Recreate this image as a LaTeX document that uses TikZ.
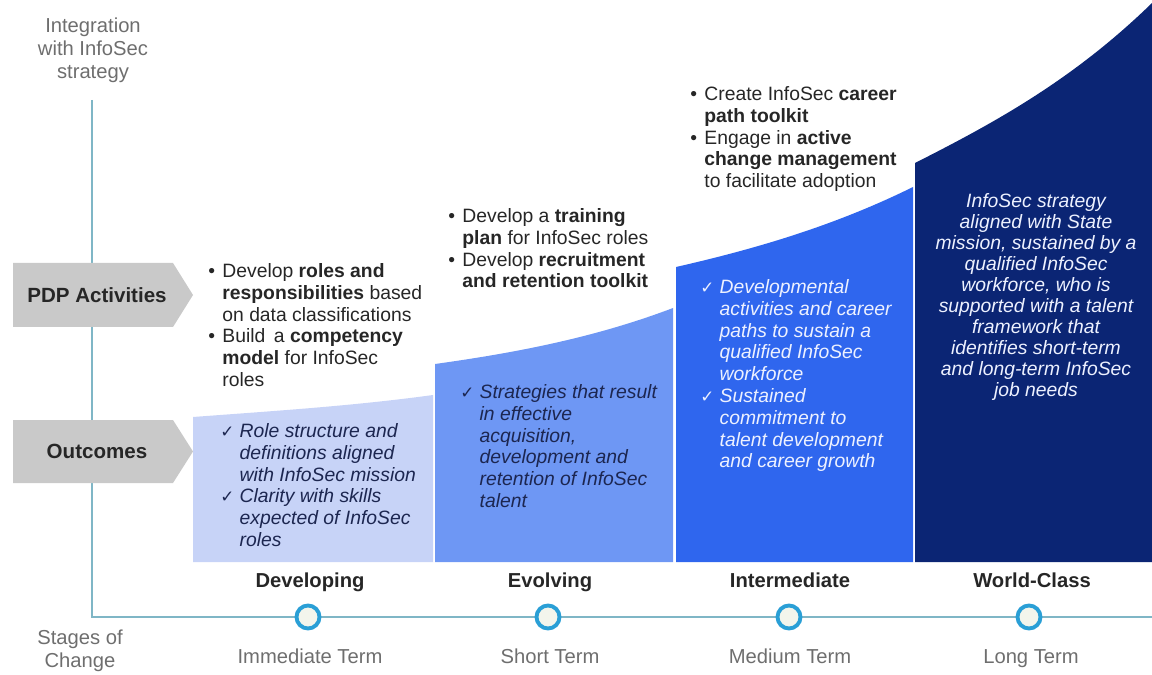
\documentclass[tikz,border=0pt]{standalone}
\usepackage{fontspec}
\setmainfont{Liberation Sans}
\newfontfamily\symfont{DejaVu Sans}
\usepackage{xcolor}
\usetikzlibrary{positioning}

\definecolor{axisteal}{HTML}{7FB6C6}
\definecolor{ringblue}{HTML}{2A9FD6}
\definecolor{ringfill}{HTML}{F3F5EC}
\definecolor{taggray}{HTML}{C9C9C9}
\definecolor{stageA}{HTML}{C7D3F7}
\definecolor{stageB}{HTML}{6E97F4}
\definecolor{stageC}{HTML}{2F66EE}
\definecolor{stageD}{HTML}{0B2574}
\definecolor{bodygray}{HTML}{262626}
\definecolor{notegray}{HTML}{6E6E6E}
\definecolor{inknavy}{HTML}{1C2650}
\definecolor{inkpale}{HTML}{EDF1FF}

\tikzset{
  tag/.style={fill=taggray, draw=none},
  tagtext/.style={font=\fontsize{11.7}{14}\selectfont\bfseries, text=bodygray, inner sep=0pt},
  act/.style={anchor=north west, inner sep=0pt, text=bodygray, font=\fontsize{11}{12.4}\selectfont},
  res/.style={anchor=north west, inner sep=0pt, font=\fontsize{11}{12.4}\selectfont\itshape},
  stage/.style={font=\fontsize{11.5}{13}\selectfont\bfseries, text=bodygray, text height=8.3pt, text depth=2.4pt, inner sep=0pt},
  term/.style={font=\fontsize{11.5}{13}\selectfont, text=notegray, text height=8.3pt, text depth=2.4pt, inner sep=0pt},
  note/.style={font=\fontsize{11.5}{13}\selectfont, text=notegray, align=center, inner sep=0pt},
  ring/.style={circle, draw=ringblue, fill=ringfill, line width=2.2pt, minimum size=0.46cm, inner sep=0pt},
  axis/.style={draw=axisteal, line width=1.1pt}
}
\newcommand{\bul}{\textbullet}
\newcommand{\chk}{{\symfont\fontsize{9.5}{10}\selectfont ✓}}

\begin{document}
\begin{tikzpicture}[x=0.02cm, y=-0.02cm]
  \useasboundingbox (0,0) rectangle (1152,675);

  % maturity columns, each top a little steeper than the last
  \fill[stageA] (193,562) -- (193,417) .. controls (273,411) and (353,406) .. (433,395) -- (433,562) -- cycle;
  \fill[stageB] (435,562) -- (435,364) .. controls (514,353) and (594,338) .. (673,308) -- (673,562) -- cycle;
  \fill[stageC] (676,562) -- (676,267) .. controls (755,249) and (834,226) .. (913,187) -- (913,562) -- cycle;
  \fill[stageD] (915,562) -- (915,163) .. controls (994,123) and (1073,80) .. (1152,3) -- (1152,562) -- cycle;

  % axes
  \draw[axis] (92,100) -- (92,617) -- (1152,617);
  \node[note] (yax) at (93,50) {Integration\\with InfoSec\\strategy};
  \node[note] (xax) at (80,651) {Stages of\\Change};

  % row tags
  \fill[tag] (13,263) -- (173,263) -- (193,295) -- (173,327) -- (13,327) -- cycle;
  \node[tagtext] (pdp) at (97,295) {PDP Activities};
  \fill[tag] (13,420) -- (173,420) -- (193,451.5) -- (173,483) -- (13,483) -- cycle;
  \node[tagtext] (out) at (97,451.5) {Outcomes};

  % stage markers
  \node[ring] (r1) at (308,617) {};
  \node[ring] (r2) at (548,617) {};
  \node[ring] (r3) at (789,617) {};
  \node[ring] (r4) at (1029,617) {};
  \node[stage] (s1) at (310,582) {Developing};
  \node[stage] (s2) at (550,582) {Evolving};
  \node[stage] (s3) at (790,582) {Intermediate};
  \node[stage] (s4) at (1032,582) {World-Class};
  \node[term] (t1) at (310,658) {Immediate Term};
  \node[term] (t2) at (550,658) {Short Term};
  \node[term] (t3) at (790,658) {Medium Term};
  \node[term] (t4) at (1031,658) {Long Term};

  % activities
  \node[act] (a1) at (208,262) {\begin{tabular}{@{}p{8pt}@{}l@{}}
    \bul & Develop \textbf{roles and}\\
         & \textbf{responsibilities} based\\
         & on data classifications\\
    \bul & Build\, a \textbf{competency}\\
         & \textbf{model} for InfoSec\\
         & roles
  \end{tabular}};
  \node[act] (a2) at (448,207) {\begin{tabular}{@{}p{8pt}@{}l@{}}
    \bul & Develop a \textbf{training}\\
         & \textbf{plan} for InfoSec roles\\
    \bul & Develop \textbf{recruitment}\\
         & \textbf{and retention toolkit}
  \end{tabular}};
  \node[act] (a3) at (690,85) {\begin{tabular}{@{}p{8pt}@{}l@{}}
    \bul & Create InfoSec \textbf{career}\\
         & \textbf{path toolkit}\\
    \bul & Engage in \textbf{active}\\
         & \textbf{change management}\\
         & to facilitate adoption
  \end{tabular}};

  % outcomes
  \node[res, text=inknavy] (o1) at (220,422) {\begin{tabular}{@{}p{11pt}@{}l@{}}
    \chk & Role structure and\\
         & definitions aligned\\
         & with InfoSec mission\\
    \chk & Clarity with skills\\
         & expected of InfoSec\\
         & roles
  \end{tabular}};
  \node[res, text=inknavy] (o2) at (460,383) {\begin{tabular}{@{}p{11pt}@{}l@{}}
    \chk & Strategies that result\\
         & in effective\\
         & acquisition,\\
         & development and\\
         & retention of InfoSec\\
         & talent
  \end{tabular}};
  \node[res, text=inkpale] (o3) at (700,278) {\begin{tabular}{@{}p{11pt}@{}l@{}}
    \chk & Developmental\\
         & activities and career\\
         & paths to sustain a\\
         & qualified InfoSec\\
         & workforce\\
    \chk & Sustained\\
         & commitment to\\
         & talent development\\
         & and career growth
  \end{tabular}};
  \node[res, anchor=north, text=inkpale, font=\fontsize{11}{12}\selectfont\itshape] (o4) at (1036,192) {\begin{tabular}{@{}c@{}}
    InfoSec strategy\\
    aligned with State\\
    mission, sustained by a\\
    qualified InfoSec\\
    workforce, who is\\
    supported with a talent\\
    framework that\\
    identifies short-term\\
    and long-term InfoSec\\
    job needs
  \end{tabular}};
\end{tikzpicture}
\end{document}
